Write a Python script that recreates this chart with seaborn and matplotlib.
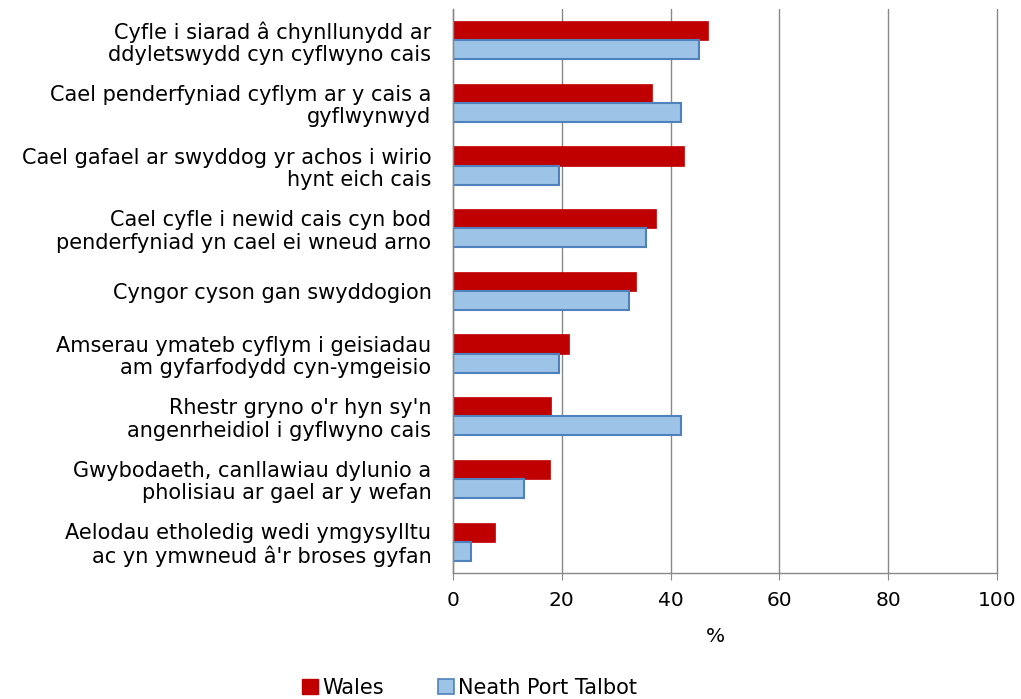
import pandas as pd
import numpy as np
import matplotlib.pyplot as plt
import seaborn as sns

# categories, top to bottom
labels = [
    "Cyfle i siarad â chynllunydd ar\nddyletswydd cyn cyflwyno cais",
    "Cael penderfyniad cyflym ar y cais a\ngyflwynwyd",
    "Cael gafael ar swyddog yr achos i wirio\nhynt eich cais",
    "Cael cyfle i newid cais cyn bod\npenderfyniad yn cael ei wneud arno",
    "Cyngor cyson gan swyddogion",
    "Amserau ymateb cyflym i geisiadau\nam gyfarfodydd cyn-ymgeisio",
    "Rhestr gryno o'r hyn sy'n\nangenrheidiol i gyflwyno cais",
    "Gwybodaeth, canllawiau dylunio a\npholisiau ar gael ar y wefan",
    "Aelodau etholedig wedi ymgysylltu\nac yn ymwneud â'r broses gyfan",
]
wales = [46.8, 36.6, 42.4, 37.4, 33.6, 21.3, 18.1, 17.8, 7.7]
npt = [45.3, 42.0, 19.4, 35.5, 32.4, 19.5, 42.0, 13.0, 3.3]
series = ["Wales", "Neath Port Talbot"]

df = pd.DataFrame({
    "label": labels * 2,
    "value": wales + npt,
    "area": [series[0]] * len(labels) + [series[1]] * len(labels),
})

sns.set_style("white")
plt.rcParams["font.family"] = ["DejaVu Sans"]
plt.rcParams["text.color"] = "black"
plt.rcParams["xtick.color"] = "black"
plt.rcParams["ytick.color"] = "black"
plt.rcParams["axes.labelcolor"] = "black"

fig = plt.figure(figsize=(10.21, 6.99), dpi=100)
ax = fig.add_axes([0.4437, 0.1803, 0.5328, 0.807])

sns.barplot(data=df, x="value", y="label", hue="area", orient="h",
            palette={"Wales": "#C00000", "Neath Port Talbot": "#9DC3E6"},
            saturation=1, width=0.61, ax=ax, legend=False)

for p in ax.containers[0]:
    p.set_edgecolor("#C00000")
    p.set_linewidth(0.5)
for p in ax.containers[1]:
    p.set_edgecolor("#4F81BD")
    p.set_linewidth(1.5)

ax.set_xlim(0, 100)
ax.set_ylim(len(labels) - 0.5, -0.5)
ax.set_xticks(range(0, 101, 20))
ax.xaxis.grid(True, color="#888888", linewidth=1)
for gl in ax.get_xgridlines():
    gl.set_clip_on(False)
ax.set_axisbelow(True)
for s in ["top", "right"]:
    ax.spines[s].set_visible(False)
for s in ["left", "bottom"]:
    ax.spines[s].set_color("#888888")
    ax.spines[s].set_linewidth(1)
ax.tick_params(axis="x", bottom=True, length=5, color="#888888", labelsize=14.5, pad=8)
ax.tick_params(axis="y", left=False, labelsize=15, pad=12)
for t in ax.get_yticklabels():
    t.set_horizontalalignment("right")
    t.set_multialignment("right")
    t.set_linespacing(1.15)
ax.set_ylabel("")
ax.set_xlabel("%", fontsize=14.5)
ax.xaxis.set_label_coords(0.483, -0.095)

handles = [plt.Rectangle((0, 0), 1, 1, facecolor="#C00000", edgecolor="#C00000"),
           plt.Rectangle((0, 0), 1, 1, facecolor="#9DC3E6", edgecolor="#4F81BD", linewidth=1.2)]
fig.legend(handles, series, loc="lower center", bbox_to_anchor=(0.46, -0.025), ncol=2,
           frameon=False, fontsize=15, handlelength=0.75, handleheight=0.75,
           handletextpad=0.2, columnspacing=2.6)

fig.savefig("out.png", dpi=100)
